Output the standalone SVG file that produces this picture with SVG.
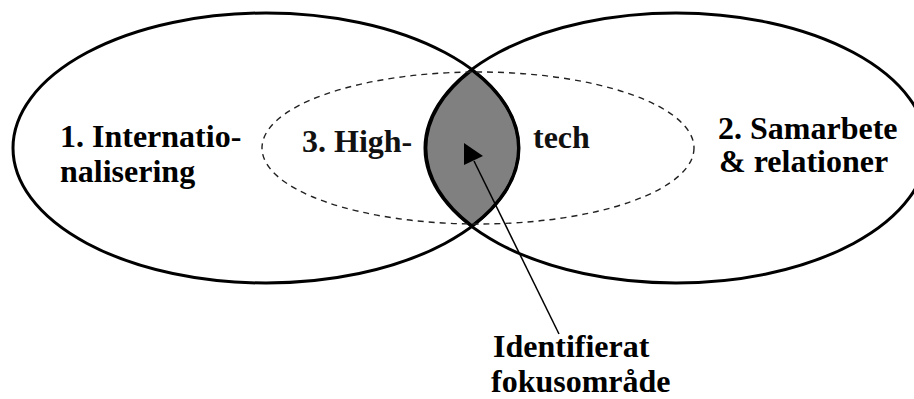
<svg xmlns="http://www.w3.org/2000/svg" width="914" height="399" viewBox="0 0 914 399">
<style>
.ring{fill:none;stroke:#000;stroke-width:3}
.dash{fill:none;stroke:#222;stroke-width:1.4;stroke-dasharray:6 5}
.lbl{font-family:"Liberation Serif","Times New Roman",serif;font-weight:bold;font-size:32px;fill:#000}
.lbl2{font-family:"Liberation Serif","Times New Roman",serif;font-weight:bold;font-size:32px;fill:#111}
</style>
<rect width="914" height="399" fill="#fff"/>
<g id="focus">
<path d="M 472 70 A 251 135 0 0 0 472 226 A 253 135 0 0 0 472 70 Z" fill="#808080" stroke="#000" stroke-width="3"/>
</g>
<g id="internationalisering">
<ellipse class="ring" cx="266" cy="148" rx="253" ry="135"/>
<text class="lbl" x="60" y="147">1. Internatio-</text>
<text class="lbl" x="60" y="182">nalisering</text>
</g>
<g id="samarbete">
<ellipse class="ring" cx="676" cy="148" rx="251" ry="135"/>
<text class="lbl" x="718" y="139">2. Samarbete</text>
<text class="lbl" x="719" y="172">&amp; relationer</text>
</g>
<g id="hightech">
<ellipse class="dash" cx="478" cy="148" rx="216" ry="76"/>
<text class="lbl2" x="302" y="152">3. High-</text>
<text class="lbl2" x="533" y="148">tech</text>
</g>
<g id="fokus-label">
<text class="lbl" x="493" y="357">Identifierat</text>
<text class="lbl" x="491" y="392">fokusområde</text>
</g>
<g id="connectors">
<line x1="559" y1="334" x2="474" y2="161" stroke="#000" stroke-width="1.5"/>
<polygon points="464,143 464,165 483,156" fill="#000"/>
</g>
</svg>
